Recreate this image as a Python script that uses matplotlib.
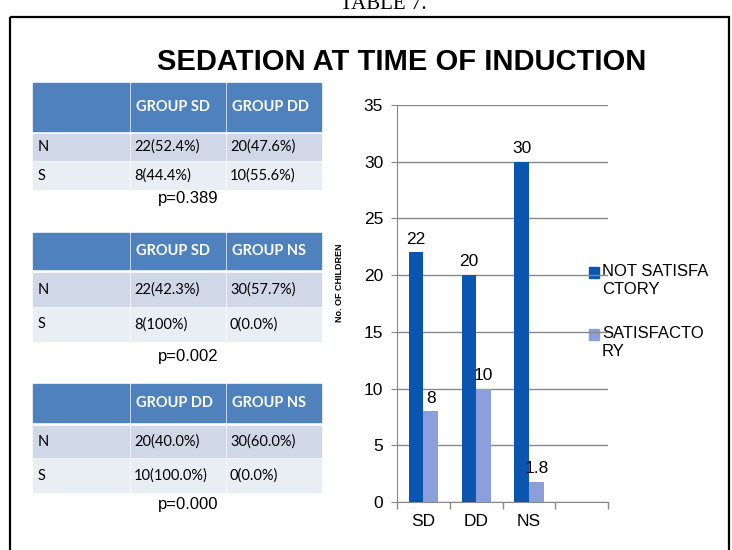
import matplotlib
matplotlib.use("Agg")
import matplotlib.pyplot as plt
from matplotlib.patches import Rectangle

W, H = 732, 550

# chart data
categories = ["SD", "DD", "NS", ""]
not_satisfactory = [22, 20, 30]
satisfactory = [8, 10, 1.8]
series_names = ["NOT SATISFA\nCTORY", "SATISFACTO\nRY"]
series_colors = ["#0A55B0", "#8A9FDB"]

# tables data
table_headers = [["GROUP SD", "GROUP DD"], ["GROUP SD", "GROUP NS"], ["GROUP DD", "GROUP NS"]]
row_names = ["N", "S"]
table_cells = [
    [["22(52.4%)", "20(47.6%)"], ["8(44.4%)", "10(55.6%)"]],
    [["22(42.3%)", "30(57.7%)"], ["8(100%)", "0(0.0%)"]],
    [["20(40.0%)", "30(60.0%)"], ["10(100.0%)", "0(0.0%)"]],
]
p_values = ["p=0.389", "p=0.002", "p=0.000"]

fig = plt.figure(figsize=(W / 100, H / 100), dpi=100)

# background layer in pixel coordinates
bg = fig.add_axes([0, 0, 1, 1])
bg.set_xlim(0, W)
bg.set_ylim(H, 0)
bg.axis("off")

bg.text(383, 9, "TABLE 7.", fontsize=15, family="Liberation Serif", ha="center", va="baseline")
bg.add_patch(Rectangle((10, 17), 719, 560, fill=False, ec="black", lw=1.6))
bg.text(402, 62, "SEDATION AT TIME OF INDUCTION", fontsize=21, fontweight="bold",
        family="Liberation Sans", ha="center", va="center")

# tables: (header top, header bottom, N top, N bottom, S top, S bottom, p y)
layouts = [
    (83, 131, 134, 160, 162, 189, 199),
    (233, 269, 273, 306, 308, 341, 356),
    (384, 422, 426, 457, 459, 492, 505),
]
cols = [(33, 129), (131, 225), (227, 321)]
head_c, n_c, s_c = "#4F81BD", "#D0D8E8", "#E9EDF4"
for t, lay in enumerate(layouts):
    ht, hb, nt, nb, st, sb, py = lay
    for j, (x0, x1) in enumerate(cols):
        bg.add_patch(Rectangle((x0, ht), x1 - x0, hb - ht, color=head_c))
        bg.add_patch(Rectangle((x0, nt), x1 - x0, nb - nt, color=n_c))
        bg.add_patch(Rectangle((x0, st), x1 - x0, sb - st, color=s_c))
        if j > 0:
            bg.text(x0 + 5, (ht + hb) / 2, table_headers[t][j - 1], color="white",
                    fontsize=10.5, fontweight="bold", family="Lato", va="center")
    for r, (rt, rb) in enumerate([(nt, nb), (st, sb)]):
        bg.text(cols[0][0] + 5, (rt + rb) / 2, row_names[r], fontsize=10.5, family="Lato", va="center")
        for j in range(2):
            bg.text(cols[j + 1][0] + 3, (rt + rb) / 2, table_cells[t][r][j], fontsize=10.5,
                    family="Lato", va="center")
    bg.text(188, py, p_values[t], fontsize=12, family="Liberation Sans", ha="center", va="center")

bg.text(340, 283, "No. OF CHILDREN", fontsize=6.5, fontweight="bold", rotation=90,
        family="Liberation Sans", ha="center", va="center")

# legend (drawn by hand so the square sits on the first line)
for k, name in enumerate(series_names):
    y0 = 267 + 62 * k
    bg.add_patch(Rectangle((589, y0), 10, 11, color=series_colors[k], zorder=5))
    bg.text(602, y0 - 3, name, fontsize=12, family="Liberation Sans", va="top",
            linespacing=1.25, zorder=5)

# bar chart
ax = fig.add_axes([397 / W, 1 - 502 / H, (608 - 397) / W, (502 - 105) / H])
ax.set_facecolor("none")
xs = range(len(not_satisfactory))
ax.bar([i + 0.36 for i in xs], not_satisfactory, width=0.27, color=series_colors[0], zorder=3)
ax.bar([i + 0.64 for i in xs], satisfactory, width=0.29, color=series_colors[1], zorder=3)
for i in xs:
    ax.text(i + 0.36, not_satisfactory[i] + 0.5, str(not_satisfactory[i]), ha="center", va="bottom",
            fontsize=12.5, family="Liberation Sans")
    ax.text(i + 0.64, satisfactory[i] + 0.5, str(satisfactory[i]), ha="center", va="bottom",
            fontsize=12.5, family="Liberation Sans")

ax.set_xlim(0, len(categories))
ax.set_ylim(0, 35)
ax.set_yticks(range(0, 36, 5))
ax.set_xticks(range(len(categories) + 1))
ax.set_xticklabels([])
ax.set_xticks([i + 0.5 for i in range(len(categories))], minor=True)
ax.set_xticklabels(categories, minor=True, fontsize=12.5, family="Liberation Sans")
ax.tick_params(axis="x", which="major", length=5, color="#888888", width=1)
ax.tick_params(axis="x", which="minor", length=0, pad=9)
ax.tick_params(axis="y", length=4, color="#888888", labelsize=12.5, pad=6)
for lab in ax.get_yticklabels():
    lab.set_family("Liberation Sans")
ax.grid(axis="y", color="#888888", lw=1, zorder=0)
for s in ["top", "right"]:
    ax.spines[s].set_visible(False)
for s in ["left", "bottom"]:
    ax.spines[s].set_color("#888888")

fig.savefig("out.png", dpi=100)
